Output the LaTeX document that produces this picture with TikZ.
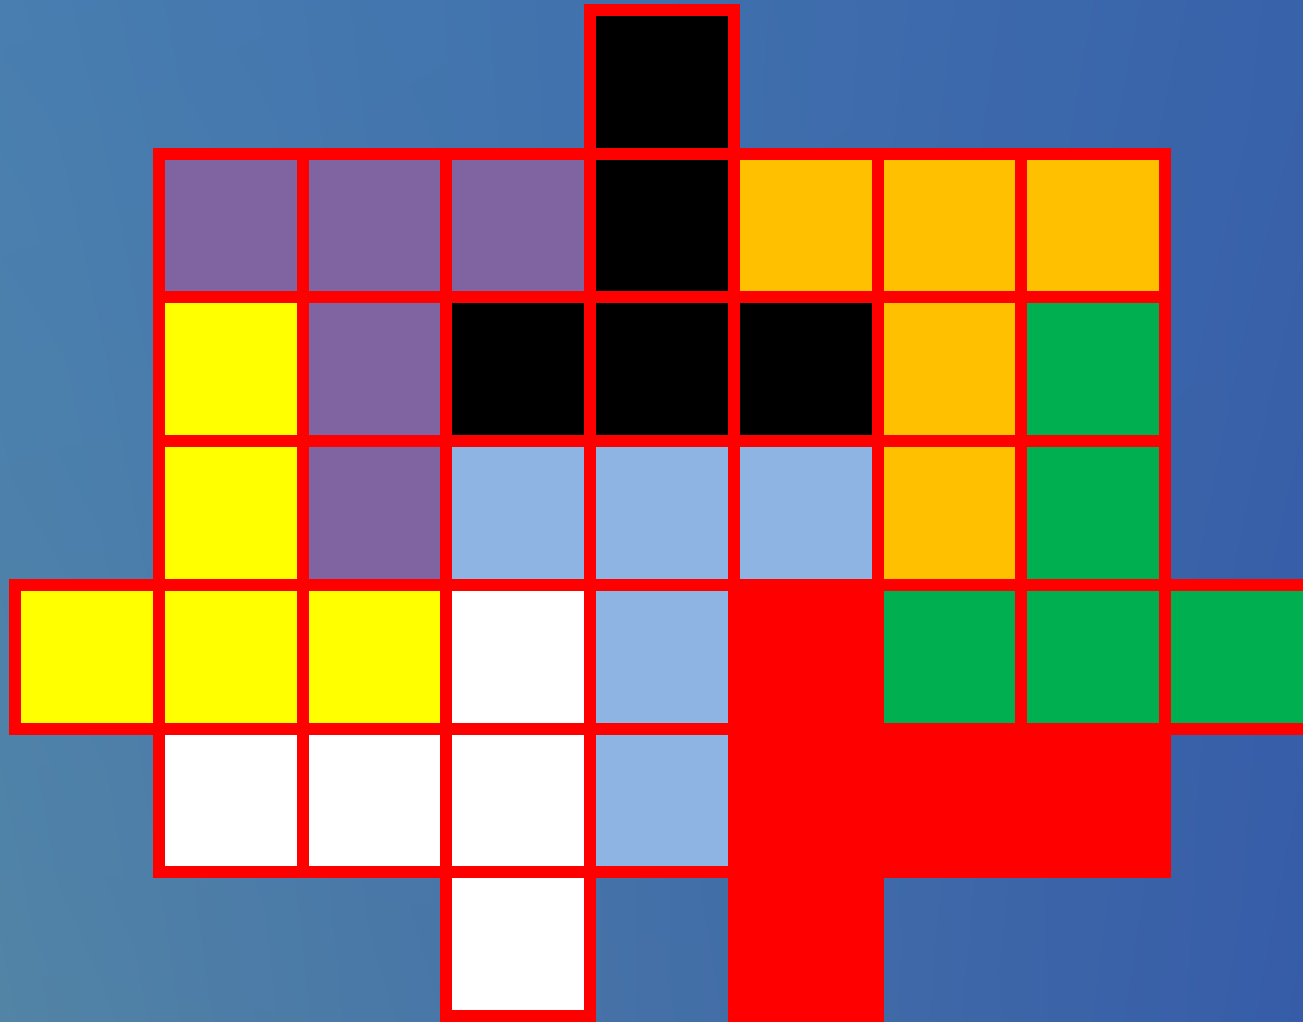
\documentclass[tikz,border=0pt]{standalone}
\usetikzlibrary{shadings}
\begin{document}
\begin{tikzpicture}[x=1pt,y=-1pt,line join=miter]
\definecolor{bgTL}{RGB}{72,126,176}
\definecolor{bgTR}{RGB}{56,98,170}
\definecolor{bgBL}{RGB}{82,132,166}
\definecolor{bgBR}{RGB}{54,92,168}
\definecolor{cpur}{HTML}{8064A2}
\definecolor{cora}{HTML}{FFC000}
\definecolor{cyel}{HTML}{FFFF00}
\definecolor{cgrn}{HTML}{00B050}
\definecolor{clb}{HTML}{8EB4E3}
\definecolor{cred}{HTML}{FF0000}
\useasboundingbox (0,0) rectangle (1303,1021);
\clip (0,0) rectangle (1303,1021);
\shade[upper left=bgTL, upper right=bgTR, lower left=bgBL, lower right=bgBR] (0,0) rectangle (1303,1021);
\def\cellcells{4/0/black,
 1/1/cpur,2/1/cpur,3/1/cpur,4/1/black,5/1/cora,6/1/cora,7/1/cora,
 1/2/cyel,2/2/cpur,3/2/black,4/2/black,5/2/black,6/2/cora,7/2/cgrn,
 1/3/cyel,2/3/cpur,3/3/clb,4/3/clb,5/3/clb,6/3/cora,7/3/cgrn,
 0/4/cyel,1/4/cyel,2/4/cyel,3/4/white,4/4/clb,5/4/cred,6/4/cgrn,7/4/cgrn,8/4/cgrn,
 1/5/white,2/5/white,3/5/white,4/5/clb,5/5/cred,6/5/cred,7/5/cred,
 3/6/white,5/6/cred}
\tikzset{cellfill/.style={fill=#1}, cellborder/.style={draw=cred,line width=12pt}}
\foreach \c/\r/\col in \cellcells {
  \fill[cellfill=\col] ({15.3+143.7*\c},{10+143.7*\r}) rectangle ({15.3+143.7*(\c+1)},{10+143.7*(\r+1)});
}
\foreach \c/\r/\col in \cellcells {
  \draw[cellborder] ({15.3+143.7*\c},{10+143.7*\r}) rectangle ({15.3+143.7*(\c+1)},{10+143.7*(\r+1)});
}
\end{tikzpicture}
\end{document}
